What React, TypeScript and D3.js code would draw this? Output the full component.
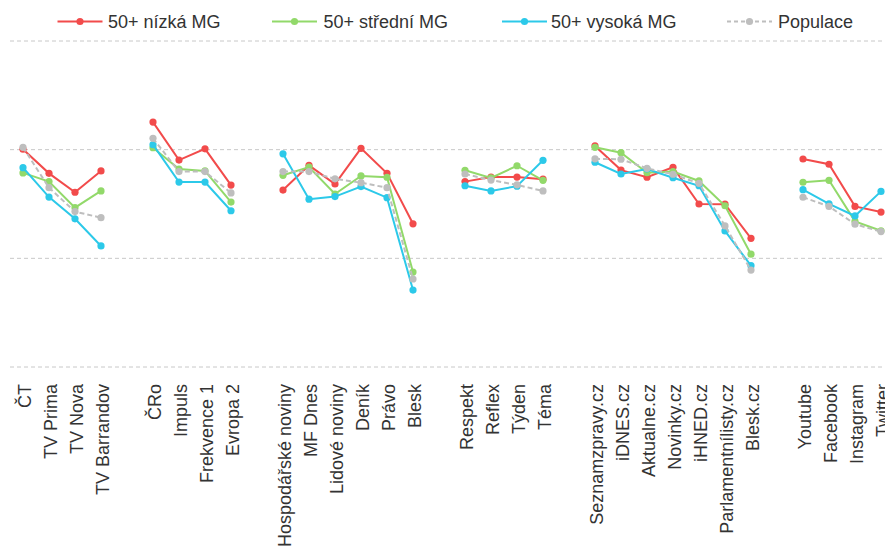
import React from "react";
import * as d3 from "d3";

const groups: string[][] = [
  ["ČT", "TV Prima", "TV Nova", "TV Barrandov"],
  ["ČRo", "Impuls", "Frekvence 1", "Evropa 2"],
  ["Hospodářské noviny", "MF Dnes", "Lidové noviny", "Deník", "Právo", "Blesk"],
  ["Respekt", "Reflex", "Týden", "Téma"],
  ["Seznamzpravy.cz", "iDNES.cz", "Aktualne.cz", "Novinky.cz", "iHNED.cz", "Parlamentnílisty.cz", "Blesk.cz"],
  ["Youtube", "Facebook", "Instagram", "Twitter"],
];

const seriesNames = ["50+ nízká MG", "50+ střední MG", "50+ vysoká MG", "Populace"];

const lowMG = [
  100.2, 89.1, 80.4, 90.2,
  112.7, 95.2, 100.4, 83.7,
  81.4, 92.8, 84.2, 100.6, 89.1, 65.9,
  85.3, 87.4, 87.4, 86.4,
  101.7, 90.6, 87.3, 91.9, 75.0, 74.9, 59.2,
  95.7, 93.3, 73.9, 71.3,
];
const midMG = [
  89.3, 85.3, 73.3, 81.0,
  100.9, 91.1, 90.2, 75.9,
  88.2, 92.0, 79.6, 87.9, 87.3, 43.7,
  90.5, 87.0, 92.6, 85.9,
  101.1, 98.6, 89.4, 89.9, 85.6, 74.2, 51.9,
  85.0, 85.9, 67.0, 62.7,
];
const highMG = [
  91.7, 78.2, 68.2, 55.7,
  102.3, 85.1, 85.1, 71.9,
  98.1, 77.2, 78.4, 83.0, 77.9, 35.4,
  83.4, 81.0, 83.2, 95.1,
  94.2, 88.8, 91.1, 87.1, 83.4, 62.6, 46.6,
  81.6, 75.1, 69.5, 80.8,
];
const population = [
  101.1, 82.5, 71.5, 68.7,
  105.2, 89.9, 89.9, 80.1,
  89.9, 89.9, 86.6, 84.8, 82.5, 40.5,
  88.8, 86.0, 83.8, 81.0,
  95.8, 95.6, 91.4, 88.7, 84.5, 64.9, 44.6,
  78.1, 73.9, 65.7, 62.3,
];

const yTicks = [0, 50, 100, 150];

const colors = ["#F24B4B", "#92D96A", "#2CC9E9", "#BEBEBE"];

export default function App() {
  const width = 885;
  const height = 553;

  // slots: categories with a spacer between groups
  const slots: string[] = [];
  groups.forEach((g, gi) => {
    g.forEach((c) => slots.push(c));
    if (gi < groups.length - 1) slots.push(`__gap${gi}`);
  });

  const x = d3.scalePoint<string>().domain(slots).range([23, 881]);
  const y = d3.scaleLinear().domain([0, 150]).range([367, 41]);

  const allSeries = [lowMG, midMG, highMG, population];
  const flatCats = groups.flat();

  const line = d3
    .line<[string, number]>()
    .x((d) => x(d[0]) as number)
    .y((d) => y(d[1]));

  const legendItems = [
    { lx: 57.5, tx: 108 },
    { lx: 272, tx: 323.5 },
    { lx: 502, tx: 551 },
    { lx: 727, tx: 778 },
  ];

  return (
    <svg
      width={width}
      height={height}
      style={{ position: "absolute", left: 0, top: 0, fontFamily: "'Liberation Sans', Arial, sans-serif" }}
    >
      <rect width={width} height={height} fill="#ffffff" />
      {yTicks.map((t) => (
        <line
          key={t}
          x1={10}
          x2={885}
          y1={y(t)}
          y2={y(t)}
          stroke="#C8C8C8"
          strokeWidth={1}
          strokeDasharray="4,3"
        />
      ))}
      {allSeries.map((vals, si) => {
        let offset = 0;
        return (
          <g key={si}>
            {groups.map((g, gi) => {
              const pts: [string, number][] = g.map((c, ci) => [c, vals[offset + ci]]);
              offset += g.length;
              return (
                <g key={gi}>
                  <path
                    d={line(pts) || ""}
                    fill="none"
                    stroke={colors[si]}
                    strokeWidth={2}
                    strokeDasharray={si === 3 ? "5,3" : undefined}
                  />
                  {pts.map((p, pi) => (
                    <circle key={pi} cx={x(p[0]) as number} cy={y(p[1])} r={3.6} fill={colors[si]} />
                  ))}
                </g>
              );
            })}
          </g>
        );
      })}
      {flatCats.map((c) => (
        <text
          key={c}
          transform={`translate(${(x(c) as number) + 7.5},384) rotate(-90)`}
          textAnchor="end"
          fontSize={18}
          fill="#333333"
        >
          {c}
        </text>
      ))}
      {seriesNames.map((s, i) => (
        <g key={s}>
          <line
            x1={legendItems[i].lx}
            x2={legendItems[i].lx + 45}
            y1={21.5}
            y2={21.5}
            stroke={colors[i]}
            strokeWidth={2}
            strokeDasharray={i === 3 ? "4,3" : undefined}
          />
          <circle cx={legendItems[i].lx + 22.5} cy={21.5} r={3.6} fill={colors[i]} />
          <text x={legendItems[i].tx} y={28} fontSize={18} fill="#333333">
            {s}
          </text>
        </g>
      ))}
    </svg>
  );
}
